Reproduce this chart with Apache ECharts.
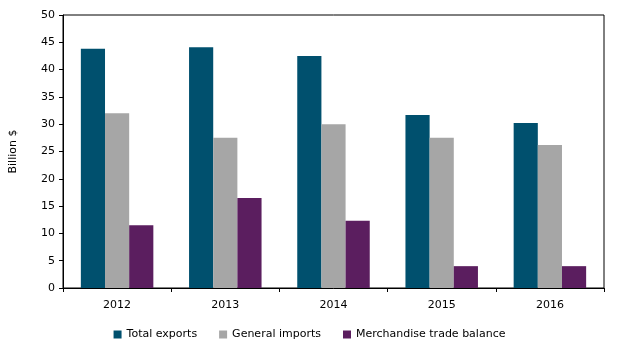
<!DOCTYPE html>
<html>
<head>
<meta charset="utf-8">
<script src="https://cdn.jsdelivr.net/npm/echarts@6/dist/echarts.min.js"></script>
<style>
  html, body { margin: 0; padding: 0; background: #fff; }
  #chart { width: 619px; height: 354px; }
</style>
</head>
<body>
<div id="chart"></div>
<script>
const years = ['2012', '2013', '2014', '2015', '2016'];
const totalExports = [43.8, 44.1, 42.5, 31.7, 30.2];
const generalImports = [32.0, 27.5, 30.0, 27.5, 26.2];
const tradeBalance = [11.5, 16.5, 12.3, 4.0, 4.0];

const chart = echarts.init(document.getElementById('chart'));
const font = '"DejaVu Sans", Verdana, sans-serif';

const option = {
  animation: false,
  textStyle: { fontFamily: font },
  grid: {
    left: 62, right: 15, top: 15, bottom: 66,
    show: true, borderColor: '#000', borderWidth: 1
  },
  legend: {
    bottom: 9,
    left: 'center',
    itemWidth: 8,
    itemHeight: 8,
    itemGap: 22,
    icon: 'rect',
    textStyle: { fontFamily: font, fontSize: 11, color: '#000' },
    data: ['Total exports', 'General imports', 'Merchandise trade balance']
  },
  xAxis: {
    type: 'category',
    data: years,
    axisLine: { lineStyle: { color: '#000' } },
    axisTick: { show: true, length: 4, lineStyle: { color: '#000' } },
    axisLabel: { fontFamily: font, fontSize: 11, color: '#000', margin: 12 }
  },
  yAxis: {
    type: 'value',
    min: 0, max: 50, interval: 5,
    name: 'Billion $',
    nameLocation: 'middle',
    nameGap: 44,
    nameTextStyle: { fontFamily: font, fontSize: 11, color: '#000' },
    axisLine: { show: true, lineStyle: { color: '#000' } },
    axisTick: { show: true, length: 4, lineStyle: { color: '#000' } },
    splitLine: { show: false },
    axisLabel: { fontFamily: font, fontSize: 11, color: '#000', margin: 8 }
  },
  series: [
    { name: 'Total exports', type: 'bar', data: totalExports, barGap: '0%', barCategoryGap: '33%',
      itemStyle: { color: '#00506E' } },
    { name: 'General imports', type: 'bar', data: generalImports,
      itemStyle: { color: '#A6A6A6' } },
    { name: 'Merchandise trade balance', type: 'bar', data: tradeBalance,
      itemStyle: { color: '#5B1E5F' } }
  ]
};
chart.setOption(option);
</script>
</body>
</html>
